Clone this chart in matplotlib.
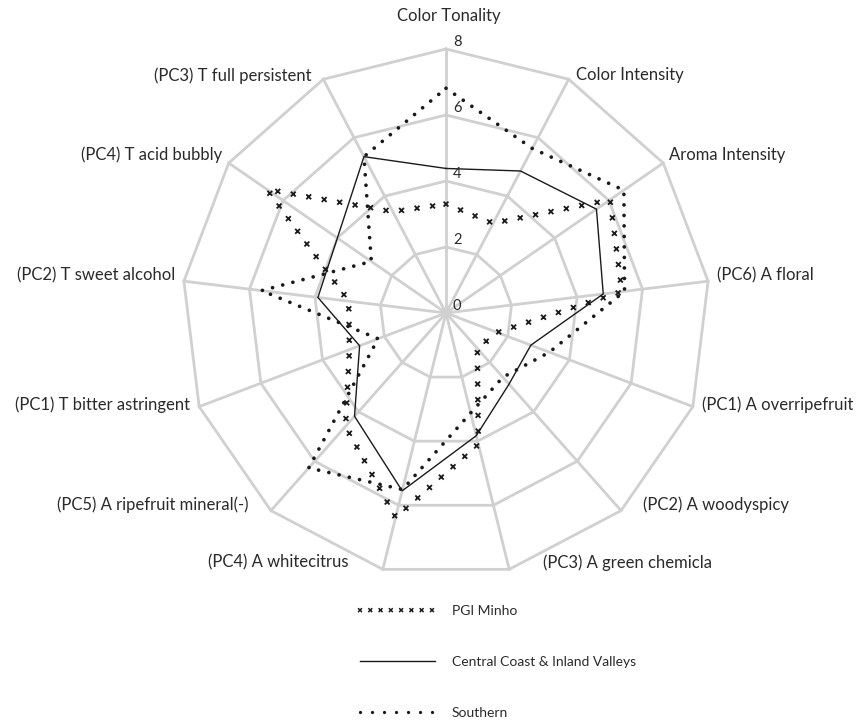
import numpy as np
import matplotlib
matplotlib.use("Agg")
import matplotlib.pyplot as plt
from matplotlib.lines import Line2D
from matplotlib.path import Path
from matplotlib.patheffects import AbstractPathEffect
from matplotlib.transforms import IdentityTransform

plt.rcParams['font.family'] = ['Lato', 'DejaVu Sans']

# ---------------- data ----------------
categories = [
    "Color Tonality", "Color Intensity", "Aroma Intensity", "(PC6) A floral",
    "(PC1) A overripefruit", "(PC2) A woodyspicy", "(PC3) A green chemicla",
    "(PC4) A whitecitrus", "(PC5) A ripefruit mineral(-)",
    "(PC1) T bitter astringent", "(PC2) T sweet alcohol",
    "(PC4) T acid bubbly", "(PC3) T full persistent",
]
pgi_minho = [3.3, 3.07, 6.04, 5.37, 1.66, 1.43, 4.1, 6.38, 4.59, 3.13, 2.97, 6.59, 3.47]
central_coast = [4.38, 4.86, 5.54, 4.8, 2.75, 2.88, 3.83, 5.55, 4.18, 2.8, 3.91, 4.0, 5.35]
southern = [6.81, 5.63, 6.55, 5.45, 3.35, 2.6, 3.12, 5.51, 6.27, 2.2, 5.63, 2.75, 5.35]
series_names = ["PGI Minho", "Central Coast & Inland Valleys", "Southern"]
ring_values = [2, 4, 6, 8]
tick_labels = ["0", "2", "4", "6", "8"]
r_max = 8

# ---------------- styles ----------------
class CrossStroke(AbstractPathEffect):
    """Draw small 'x' marks at regular spacing along a path (line style)."""
    def __init__(self, spacing=11.3, size=3.6, lw=1.25):
        super().__init__()
        self.spacing = spacing
        self.size = size
        self.lw = lw

    def draw_path(self, renderer, gc, tpath, affine, rgbFace=None):
        pts = affine.transform(tpath.vertices)
        sp = renderer.points_to_pixels(self.spacing)
        h = renderer.points_to_pixels(self.size) / 2.0
        centers = []
        carry = 0.0
        for p0, p1 in zip(pts[:-1], pts[1:]):
            d = float(np.hypot(*(p1 - p0)))
            if d == 0:
                continue
            s = carry
            while s <= d:
                centers.append(p0 + (p1 - p0) * s / d)
                s += sp
            carry = s - d
        if not centers:
            return
        verts, codes = [], []
        for (x, y) in centers:
            verts += [(x - h, y - h), (x + h, y + h), (x - h, y + h), (x + h, y - h)]
            codes += [Path.MOVETO, Path.LINETO, Path.MOVETO, Path.LINETO]
        gc0 = renderer.new_gc()
        gc0.copy_properties(gc)
        gc0.set_linewidth(self.lw)
        gc0.set_dashes(0, None)
        gc0.set_capstyle('butt')
        renderer.draw_path(gc0, Path(verts, codes), IdentityTransform())
        gc0.restore()


W, H = 859, 723
fig = plt.figure(figsize=(W / 100, H / 100), dpi=100)
ax = fig.add_axes([0, 0, 1, 1])
scale = 33.0  # pixels per unit
cx, cy = 446, 313  # chart centre in pixels (from top)
ax.set_xlim(-cx / scale, (W - cx) / scale)
ax.set_ylim(-(H - cy) / scale, cy / scale)
ax.set_aspect('equal')
ax.axis('off')

n = len(categories)
theta = np.pi / 2 - np.arange(n) * 2 * np.pi / n
cos_t, sin_t = np.cos(theta), np.sin(theta)

grid_color = '#d0d0d0'
# rings
for rv in ring_values:
    xs = np.append(rv * cos_t, rv * cos_t[0])
    ys = np.append(rv * sin_t, rv * sin_t[0])
    ax.plot(xs, ys, color=grid_color, lw=2.0, zorder=1, solid_joinstyle='miter')
# spokes
for c, s in zip(cos_t, sin_t):
    ax.plot([0, r_max * c], [0, r_max * s], color=grid_color, lw=2.0, zorder=1)

def closed(vals):
    v = np.asarray(vals, dtype=float)
    return np.append(v * cos_t, v[0] * cos_t[0]), np.append(v * sin_t, v[0] * sin_t[0])

# series
x, y = closed(pgi_minho)
ax.plot(x, y, color='#1a1a1a', lw=1.2, zorder=3,
        path_effects=[CrossStroke(spacing=11.3, size=3.5, lw=1.3)])
x, y = closed(central_coast)
ax.plot(x, y, color='#1a1a1a', lw=1.0, zorder=4, solid_joinstyle='miter')
x, y = closed(southern)
ax.plot(x, y, color='#1a1a1a', lw=2.7, zorder=5,
        linestyle=(0, (0.001, 2.8)), dash_capstyle='round')

# radial tick labels
for i, tl in enumerate(tick_labels):
    ax.annotate(tl, xy=(0, i * 2), xytext=(7, 7), textcoords='offset pixels',
                ha='left', va='center', fontsize=10.5, color='#2a2a2a', zorder=6)

# category labels (offsets in pixels: right, up)
label_offsets = [(3, 33), (7, 4), (6, 8), (9, 6), (9, 2), (22, 6), (34, 7),
                 (-34, 7), (-22, 6), (-9, 2), (-9, 6), (-6, 8), (-12, 4)]
for i, name in enumerate(categories):
    dx, dy = label_offsets[i]
    ha = 'center' if i == 0 else ('left' if dx > 0 else 'right')
    ax.annotate(name, xy=(r_max * cos_t[i], r_max * sin_t[i]), xytext=(dx, dy),
                textcoords='offset pixels', ha=ha, va='center',
                fontsize=12, color='#2a2a2a')

# legend
h1 = Line2D([], [], color='#1a1a1a', lw=1.0,
            path_effects=[CrossStroke(spacing=7.4, size=2.8, lw=1.1)])
h2 = Line2D([], [], color='#1a1a1a', lw=1.0)
h3 = Line2D([], [], color='#1a1a1a', lw=2.4, linestyle=(0, (0.001, 3.6)),
            dash_capstyle='round')
fig.legend([h1, h2, h3], series_names, loc='upper left',
           bbox_to_anchor=(360 / W, 1 - 605 / H), frameon=False,
           fontsize=10, handlelength=5.4, handletextpad=1.2,
           labelspacing=2.8, borderpad=0, borderaxespad=0,
           labelcolor='#2a2a2a')

fig.savefig('out.png', dpi=100)
